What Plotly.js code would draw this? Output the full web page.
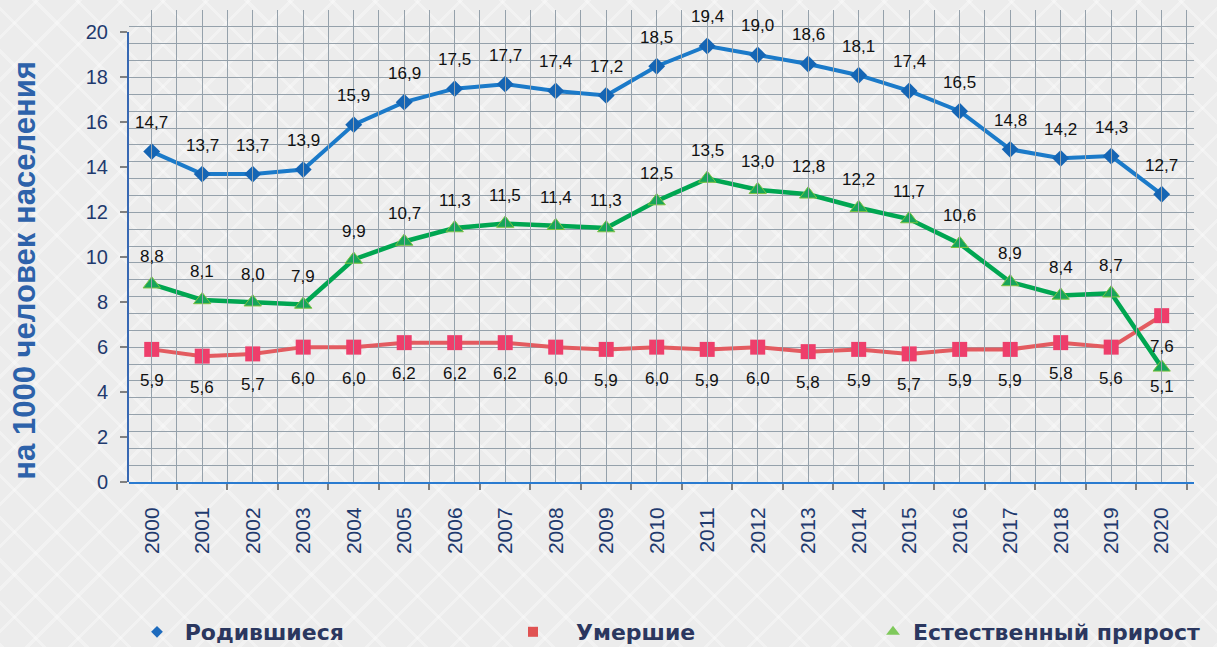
<!DOCTYPE html>
<html>
<head>
<meta charset="utf-8">
<script src="https://cdn.plot.ly/plotly-3.0.1.min.js"></script>
<style>
html,body{margin:0;padding:0;}
body{width:1217px;height:647px;overflow:hidden;background-color:#ececec;
background-image:
 repeating-linear-gradient(45deg, rgba(255,255,255,0.32) 0px, rgba(255,255,255,0.32) 3px, rgba(255,255,255,0) 3px, rgba(255,255,255,0) 30px),
 repeating-linear-gradient(-45deg, rgba(255,255,255,0.32) 0px, rgba(255,255,255,0.32) 3px, rgba(255,255,255,0) 3px, rgba(255,255,255,0) 30px);}
#chart{width:1217px;height:647px;}
</style>
</head>
<body>
<div id="chart"></div>
<script>
// ---- data ----
const years = [2000,2001,2002,2003,2004,2005,2006,2007,2008,2009,2010,2011,2012,2013,2014,2015,2016,2017,2018,2019,2020];
const yearLabels = years.map(String);

const births       = [14.7,13.7,13.7,13.9,15.9,16.9,17.5,17.7,17.4,17.2,18.5,19.4,19.0,18.6,18.1,17.4,16.5,14.8,14.4,14.5,12.8];
const birthsLabels = [14.7,13.7,13.7,13.9,15.9,16.9,17.5,17.7,17.4,17.2,18.5,19.4,19.0,18.6,18.1,17.4,16.5,14.8,14.2,14.3,12.7];

const deaths       = [5.9,5.6,5.7,6.0,6.0,6.2,6.2,6.2,6.0,5.9,6.0,5.9,6.0,5.8,5.9,5.7,5.9,5.9,6.2,6.0,7.4];
const deathsLabels = [5.9,5.6,5.7,6.0,6.0,6.2,6.2,6.2,6.0,5.9,6.0,5.9,6.0,5.8,5.9,5.7,5.9,5.9,5.8,5.6,7.6];

const growth       = [8.8,8.1,8.0,7.9,9.9,10.7,11.3,11.5,11.4,11.3,12.5,13.5,13.0,12.8,12.2,11.7,10.6,8.9,8.3,8.4,5.1];
const growthLabels = [8.8,8.1,8.0,7.9,9.9,10.7,11.3,11.5,11.4,11.3,12.5,13.5,13.0,12.8,12.2,11.7,10.6,8.9,8.4,8.7,5.1];

const seriesNames = ['Родившиеся','Умершие','Естественный прирост'];
const yTitle = 'на 1000 человек населения';

// ---- helpers ----
const fmt = v => v.toFixed(1).replace('.', ',');
const labelFont = {family:'Liberation Sans, Arial, sans-serif', size:17, color:'#111111'};
const tickColor = '#1f3a6e';
const gridColor = '#95a1ab';

const traces = [
  {x:years, y:deaths, type:'scatter', mode:'lines+markers', showlegend:false, hoverinfo:'skip',
   line:{color:'#e35b60', width:4}, marker:{symbol:'square', size:15, color:'#ee3e6b'}},
  {x:years, y:growth, type:'scatter', mode:'lines+markers', showlegend:false, hoverinfo:'skip',
   line:{color:'#00a651', width:4.5}, marker:{symbol:'triangle-up', size:15, color:'#17a55a', line:{color:'#7dc242', width:1}}},
  {x:years, y:births, type:'scatter', mode:'lines+markers', showlegend:false, hoverinfo:'skip',
   line:{color:'#1b7ac9', width:4}, marker:{symbol:'diamond', size:13, color:'#1565b4'}},
  // legend entries
  {x:[null], y:[null], yaxis:'y2', type:'scatter', mode:'markers', name:'\u00a0' + seriesNames[0], legend:'legend',
   marker:{symbol:'diamond', size:9, color:'#1e6bbd'}},
  {x:[null], y:[null], yaxis:'y2', type:'scatter', mode:'markers', name:'\u00a0\u00a0\u00a0' + seriesNames[1], legend:'legend2',
   marker:{symbol:'square', size:10, color:'#e05252'}},
  {x:[null], y:[null], yaxis:'y2', type:'scatter', mode:'markers', name:seriesNames[2], legend:'legend3',
   marker:{symbol:'triangle-up', size:12, color:'#7fc95b'}}
];

const annotations = [];
function addLabels(vals, labels, shift, overrides){
  vals.forEach((v,i)=>{
    annotations.push({x:years[i], y:v, xref:'x', yref:'y', text:fmt(labels[i]), showarrow:false,
      yshift:(overrides && overrides[i]!==undefined) ? overrides[i] : shift, font:labelFont});
  });
}
addLabels(births, birthsLabels, 29);
addLabels(deaths, deathsLabels, -31);
addLabels(growth, growthLabels, 28, {20:-19});

annotations.push({xref:'paper', yref:'paper', x:-0.0985, y:0.448, xanchor:'center', yanchor:'middle',
  text:yTitle, textangle:-90, showarrow:false,
  font:{family:'Liberation Sans, Arial, sans-serif', size:31, color:'#2d62aa', weight:'bold'}});

const L = 129, R = 1194, W = 1217, H = 647;
const legendFont = {family:'DejaVu Sans, sans-serif', size:22, color:'#2b375f', weight:'bold'};
function legendAt(px){
  return {xref:'container', yref:'container', x:px/W, y:1 - 632/H, xanchor:'left', yanchor:'middle',
    orientation:'h', bgcolor:'rgba(0,0,0,0)', borderwidth:0, font:legendFont,
    itemclick:false, itemdoubleclick:false};
}

const layout = {
  width:W, height:H,
  margin:{l:L, r:W-R, t:10, b:165, autoexpand:false},
  paper_bgcolor:'rgba(0,0,0,0)', plot_bgcolor:'rgba(0,0,0,0)',
  xaxis:{range:[1999.55, 2020.64], tickmode:'array', tickvals:years, ticktext:yearLabels,
    tickangle:-90, ticks:'', showgrid:true, gridcolor:gridColor, gridwidth:1,
    showline:true, linecolor:'#2a7bd0', linewidth:2, zeroline:false, fixedrange:true,
    tickfont:{family:'Liberation Sans, Arial, sans-serif', size:21, color:tickColor},
    ticklabelstandoff:15,
    minor:{tickmode:'linear', tick0:1999.5, dtick:1, showgrid:true, gridcolor:gridColor, gridwidth:1,
      ticks:'outside', ticklen:6, tickcolor:'#808080', tickwidth:2}},
  yaxis:{range:[0,21], tickmode:'linear', tick0:0, dtick:0.75, showticklabels:false, ticks:'',
    showgrid:true, gridcolor:gridColor, gridwidth:1, zeroline:false, showline:false, fixedrange:true},
  yaxis2:{anchor:'x', domain:[0, 20/21], range:[0,20], tickmode:'linear', tick0:0, dtick:2,
    ticks:'outside', ticklen:7, tickcolor:'#808080', tickwidth:2,
    showline:true, linecolor:'#3768b3', linewidth:2, showgrid:false, zeroline:false, fixedrange:true,
    tickfont:{family:'Liberation Sans, Arial, sans-serif', size:20, color:tickColor}, ticklabelstandoff:8},
  legend:legendAt(137),
  legend2:legendAt(513),
  legend3:legendAt(873),
  annotations:annotations,
  showlegend:true
};

Plotly.newPlot('chart', traces, layout, {displayModeBar:false, staticPlot:true});
</script>
</body>
</html>
